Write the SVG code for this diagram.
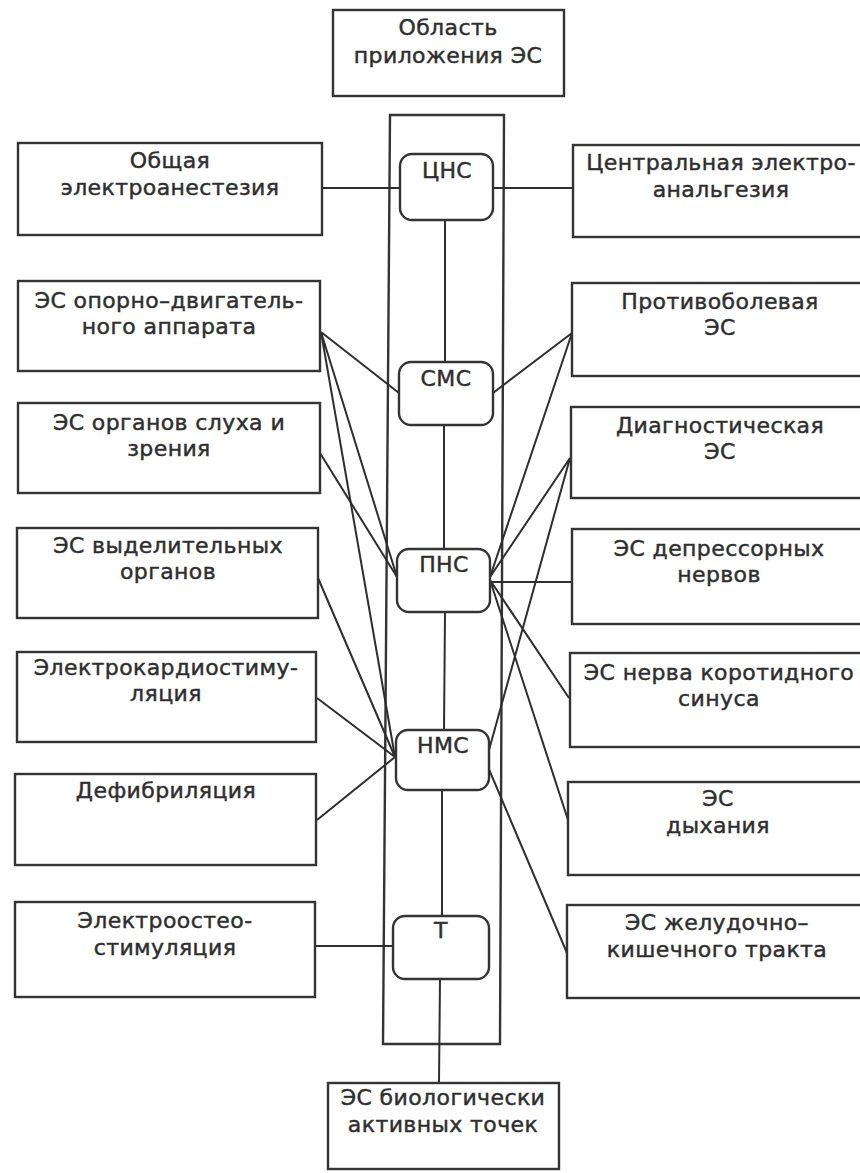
<svg xmlns="http://www.w3.org/2000/svg" width="860" height="1173" viewBox="0 0 860 1173">
<style>
.box{fill:#fff;stroke:#333;stroke-width:2.4}
.node{fill:#fff;stroke:#333;stroke-width:2.4}
.col{fill:none;stroke:#333;stroke-width:2.4}
.ln{stroke:#2e2e2e;stroke-width:2;fill:none}
text{font-family:"DejaVu Sans","Liberation Sans",Arial,sans-serif;font-size:22px;fill:#2e2e2e;stroke:#2e2e2e;stroke-width:0.45;text-anchor:middle;letter-spacing:0.4px}
</style>
<rect width="860" height="1173" fill="#fff"/>

<g id="column"><path class="col" d="M390,115 L504,115 L500,1044 L383,1044 Z"/></g>

<g id="connectors">
<path class="ln" d="M445,220 L445,362 M444,425 L444,549 M445,612 L444,730 M442,790 L442,916 M440,979 L439,1083"/>
<path class="ln" d="M322,188 L400,188 M493,188 L573,188"/>
<path class="ln" d="M321,332 L399,393 M321,332 L397,577 M321,332 L395,757"/>
<path class="ln" d="M320,453 L397,577"/>
<path class="ln" d="M318,578 L395,757 M317,698 L395,757 M317,820 L395,757"/>
<path class="ln" d="M315,946 L393,946"/>
<path class="ln" d="M572,333 L493,393 M572,333 L490,577"/>
<path class="ln" d="M570,458 L490,577 M570,458 L489,750"/>
<path class="ln" d="M490,582 L572,582 M490,580 L569,698 M490,580 L568,820"/>
<path class="ln" d="M488,767 L567,953"/>
</g>

<g id="n-top"><rect class="box" x="333" y="10" width="231" height="86"/><text x="448" y="35">Область</text><text x="448" y="63">приложения ЭС</text></g>

<g id="n-cns"><rect class="node" x="400" y="154" width="93" height="66" rx="12"/><text x="447" y="178">ЦНС</text></g>
<g id="n-sms"><rect class="node" x="399" y="362" width="94" height="63" rx="12"/><text x="446" y="386">СМС</text></g>
<g id="n-pns"><rect class="node" x="397" y="549" width="93" height="63" rx="12"/><text x="444" y="572">ПНС</text></g>
<g id="n-nms"><rect class="node" x="396" y="730" width="93" height="60" rx="12"/><text x="443" y="753">НМС</text></g>
<g id="n-t"><rect class="node" x="393" y="916" width="96" height="63" rx="12"/><text x="441" y="938">Т</text></g>

<g id="l1"><rect class="box" x="18" y="143" width="304" height="92"/><text x="170" y="168">Общая</text><text x="170" y="195">электроанестезия</text></g>
<g id="l2"><rect class="box" x="18" y="281" width="302" height="90"/><text x="169" y="308">ЭС опорно–двигатель-</text><text x="169" y="334">ного аппарата</text></g>
<g id="l3"><rect class="box" x="18" y="403" width="302" height="90"/><text x="169" y="430">ЭС органов слуха и</text><text x="169" y="456">зрения</text></g>
<g id="l4"><rect class="box" x="17" y="528" width="301" height="90"/><text x="168" y="553">ЭС выделительных</text><text x="168" y="579">органов</text></g>
<g id="l5"><rect class="box" x="17" y="652" width="299" height="90"/><text x="166" y="675">Электрокардиостиму-</text><text x="166" y="701">ляция</text></g>
<g id="l6"><rect class="box" x="15" y="774" width="301" height="91"/><text x="166" y="798">Дефибриляция</text></g>
<g id="l7"><rect class="box" x="15" y="902" width="300" height="95"/><text x="165" y="928">Электроостео-</text><text x="165" y="955">стимуляция</text></g>

<g id="r1"><rect class="box" x="573" y="145" width="295" height="92"/><text x="721" y="170">Центральная электро-</text><text x="721" y="197">анальгезия</text></g>
<g id="r2"><rect class="box" x="572" y="283" width="296" height="93"/><text x="720" y="309">Противоболевая</text><text x="720" y="335">ЭС</text></g>
<g id="r3"><rect class="box" x="571" y="407" width="297" height="91"/><text x="720" y="433">Диагностическая</text><text x="720" y="459">ЭС</text></g>
<g id="r4"><rect class="box" x="572" y="529" width="296" height="95"/><text x="719" y="556">ЭС депрессорных</text><text x="719" y="582">нервов</text></g>
<g id="r5"><rect class="box" x="570" y="653" width="298" height="94"/><text x="719" y="680">ЭС нерва коротидного</text><text x="719" y="706">синуса</text></g>
<g id="r6"><rect class="box" x="568" y="782" width="300" height="93"/><text x="718" y="806">ЭС</text><text x="718" y="833">дыхания</text></g>
<g id="r7"><rect class="box" x="567" y="905" width="301" height="93"/><text x="717" y="930">ЭС желудочно–</text><text x="717" y="957">кишечного тракта</text></g>

<g id="n-bottom"><rect class="box" x="328" y="1083" width="231" height="86"/><text x="443" y="1105">ЭС биологически</text><text x="443" y="1132">активных точек</text></g>
</svg>
